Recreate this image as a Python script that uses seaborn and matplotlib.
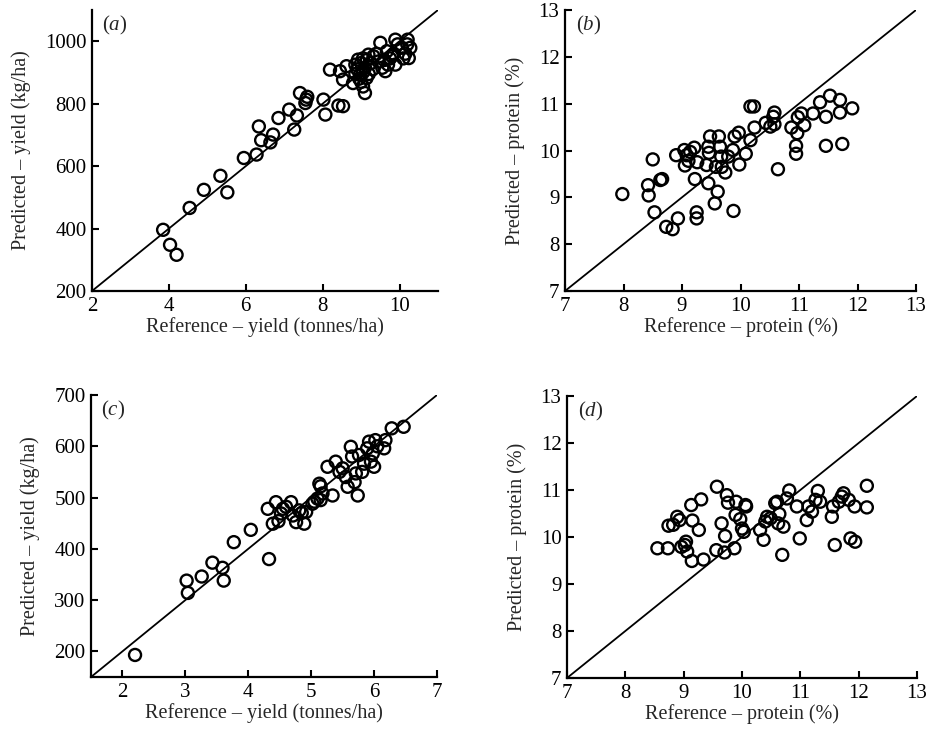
import matplotlib
matplotlib.use("Agg")
import matplotlib.pyplot as plt
import seaborn as sns
import pandas as pd

# ---------------- data ----------------
a_x = [3.85, 4.03, 4.20, 4.54, 4.91, 5.34, 5.52, 5.95, 6.28, 6.34, 6.40, 6.71, 6.64, 6.85,
       7.13, 7.26, 7.33, 7.41, 7.57, 7.60, 7.55, 8.02, 8.07, 8.41, 8.53,
       8.19, 8.45, 8.62, 8.53, 8.79, 8.92, 8.97, 9.05, 9.10, 9.14, 9.19, 9.32, 9.50, 9.55,
       9.63, 9.67, 9.80, 9.89, 9.89, 10.06, 10.21, 10.24, 10.28, 10.10,
       8.85, 8.90, 9.00, 9.05, 9.10, 9.15, 9.00, 8.95, 9.25, 9.40, 9.45, 9.60, 9.70, 9.75,
       9.85, 9.95, 10.20, 9.30, 9.20, 8.85, 9.05, 10.15]
a_y = [396, 348, 316, 466, 524, 569, 516, 626, 637, 727, 683, 701, 676, 754,
       781, 717, 762, 834, 813, 822, 802, 813, 765, 794, 792,
       909, 904, 920, 877, 866, 941, 893, 855, 834, 882, 957, 952, 995, 915,
       904, 968, 952, 1005, 925, 979, 1005, 946, 979, 945,
       925, 910, 930, 900, 915, 940, 870, 880, 930, 960, 935, 940, 925, 945,
       960, 990, 990, 910, 895, 895, 945, 960]

b_x = [7.98, 8.42, 8.43, 8.50, 8.53, 8.63, 8.66, 8.73, 8.84, 8.93, 8.90, 9.04, 9.05, 9.08,
       9.11, 9.14, 9.21, 9.22, 9.25, 9.25, 9.26, 9.42, 9.45, 9.45, 9.46, 9.48, 9.56, 9.58,
       9.61, 9.63, 9.65, 9.67, 9.68, 9.74, 9.79, 9.87, 9.88, 9.90, 9.97, 9.98, 10.09, 10.17,
       10.17, 10.23, 10.24, 10.43, 10.51, 10.56, 10.58, 10.58, 10.64, 10.87, 10.95, 10.95,
       10.97, 10.98, 11.04, 11.09, 11.24, 11.36, 11.46, 11.46, 11.53, 11.70, 11.70, 11.74,
       11.91]
b_y = [9.07, 9.26, 9.04, 9.81, 8.68, 9.37, 9.39, 8.37, 8.32, 8.55, 9.90, 10.01, 9.68, 9.90,
       9.78, 9.97, 10.06, 9.39, 8.68, 8.55, 9.75, 9.69, 10.08, 9.30, 9.95, 10.30, 8.87, 9.65,
       9.12, 10.30, 10.08, 9.87, 9.65, 9.53, 9.87, 10.01, 8.71, 10.30, 10.38, 9.70, 9.93, 10.22,
       10.94, 10.94, 10.49, 10.59, 10.51, 10.72, 10.81, 10.56, 9.60, 10.49, 10.10, 9.93,
       10.37, 10.71, 10.79, 10.54, 10.79, 11.03, 10.72, 10.10, 11.17, 11.08, 10.81, 10.14,
       10.90]

c_x = [2.20, 3.02, 3.04, 3.26, 3.43, 3.59, 3.61, 3.77, 4.04, 4.33,
       4.31, 4.39, 4.44, 4.52, 4.60, 4.68, 4.71, 4.81, 4.89, 4.92, 5.02, 5.13, 5.15, 5.18,
       5.26, 5.34, 5.39, 5.50, 5.55, 5.58, 5.63, 5.71, 5.74, 5.76, 5.81, 5.84, 5.89, 5.92,
       6.00, 6.02, 6.16, 6.18,
       4.48, 4.76, 5.10, 5.15, 5.69, 5.98, 6.28, 6.47, 6.05, 5.45, 4.55, 4.85, 5.05, 5.65, 5.95]
c_y = [193, 338, 314, 346, 373, 363, 338, 413, 437, 380,
       478, 449, 491, 469, 482, 491, 465, 475, 449, 472, 488, 527, 495, 508,
       560, 504, 570, 557, 540, 521, 599, 547, 504, 583, 550, 566, 596, 609,
       560, 612, 596, 612,
       454, 452, 498, 522, 530, 586, 635, 638, 600, 550, 478, 470, 492, 580, 570]

d_x = [8.55, 8.73, 8.74, 8.82, 8.89, 8.93, 8.96, 9.02, 9.04, 9.06, 9.13, 9.14, 9.15, 9.26,
       9.30, 9.34, 9.56, 9.57, 9.65, 9.71, 9.70, 9.74, 9.76, 9.87, 9.89, 9.90, 9.97, 10.00,
       10.03, 10.06, 10.07, 10.31, 10.37, 10.40, 10.43, 10.49, 10.57, 10.60, 10.62, 10.64,
       10.69, 10.71, 10.77, 10.81, 10.94, 10.99, 11.11, 11.14, 11.20, 11.26, 11.30, 11.34,
       11.54, 11.56, 11.59, 11.66, 11.74, 11.83, 11.86, 11.94, 11.93, 12.14, 12.14, 11.71]
d_y = [9.76, 9.76, 10.24, 10.26, 10.43, 10.36, 9.79, 9.83, 9.90, 9.69, 10.68, 9.49, 10.35, 10.15,
       10.80, 9.52, 9.72, 11.07, 10.29, 10.02, 9.67, 10.89, 10.73, 9.76, 10.47, 10.75, 10.38, 10.18,
       10.11, 10.68, 10.65, 10.15, 9.94, 10.33, 10.43, 10.40, 10.72, 10.75, 10.29, 10.49,
       9.62, 10.22, 10.82, 10.99, 10.65, 9.97, 10.36, 10.65, 10.54, 10.79, 10.98, 10.75,
       10.43, 10.65, 9.83, 10.75, 10.93, 10.79, 9.97, 9.90, 10.65, 11.09, 10.63, 10.86]

panel_tags = ["a", "b", "c", "d"]
x_labels = ["Reference – yield (tonnes/ha)", "Reference – protein (%)",
            "Reference – yield (tonnes/ha)", "Reference – protein (%)"]
y_labels = ["Predicted – yield (kg/ha)", "Predicted – protein (%)",
            "Predicted – yield (kg/ha)", "Predicted – protein (%)"]
x_limits = [(2, 11), (7, 13), (1.5, 7), (7, 13)]
y_limits = [(200, 1100), (7, 13), (150, 700), (7, 13)]
x_ticks = [[2, 4, 6, 8, 10], [7, 8, 9, 10, 11, 12, 13], [2, 3, 4, 5, 6, 7], [7, 8, 9, 10, 11, 12, 13]]
y_ticks = [[200, 400, 600, 800, 1000], [7, 8, 9, 10, 11, 12, 13],
           [200, 300, 400, 500, 600, 700], [7, 8, 9, 10, 11, 12, 13]]
line_slope = [100, 1, 100, 1]   # 1:1 reference line (units differ by 100 for yield)

# ---------------- style ----------------
sns.set_theme(style="ticks")
plt.rcParams["font.family"] = ["Liberation Serif", "DejaVu Serif"]
plt.rcParams["mathtext.fontset"] = "custom"
plt.rcParams["mathtext.it"] = "Liberation Serif:italic"
plt.rcParams["mathtext.rm"] = "Liberation Serif"

fig = plt.figure(figsize=(9.32, 7.38), dpi=100)
W, H = 932, 738
# axes rectangles in pixels: left, right, top, bottom
rects_px = [(92, 438, 10, 291), (565, 916, 10, 291), (91, 437, 395, 677), (567, 917, 396, 678)]

series = [(a_x, a_y), (b_x, b_y), (c_x, c_y), (d_x, d_y)]

for i, (xs, ys) in enumerate(series):
    l, r, t, b = rects_px[i]
    ax = fig.add_axes([l / W, 1 - b / H, (r - l) / W, (b - t) / H])
    df = pd.DataFrame({"x": xs, "y": ys})
    sns.scatterplot(data=df, x="x", y="y", ax=ax, marker="o", s=75,
                    facecolor="none", edgecolor="black", linewidth=1.7, zorder=3)
    x0, x1 = x_limits[i]
    ax.plot([x0, x1], [x0 * line_slope[i], x1 * line_slope[i]], color="black", lw=1.3, zorder=2)
    ax.set_xlim(x_limits[i])
    ax.set_ylim(y_limits[i])
    ax.set_xticks(x_ticks[i])
    ax.set_yticks(y_ticks[i])
    ax.tick_params(direction="in", length=5, width=1.5, labelsize=15, colors="black", pad=4)
    for side in ("top", "right"):
        ax.spines[side].set_visible(False)
    for side in ("left", "bottom"):
        ax.spines[side].set_linewidth(1.6)
        ax.spines[side].set_color("black")
    ax.set_xlabel(x_labels[i], fontsize=14.5, labelpad=1)
    ax.set_ylabel(y_labels[i], fontsize=14.5, labelpad=10)
    ax.text(0.03, 0.945, r"($\mathit{" + panel_tags[i] + r"}$)", transform=ax.transAxes,
            fontsize=15, ha="left", va="center")

fig.savefig("out.png", dpi=100)
